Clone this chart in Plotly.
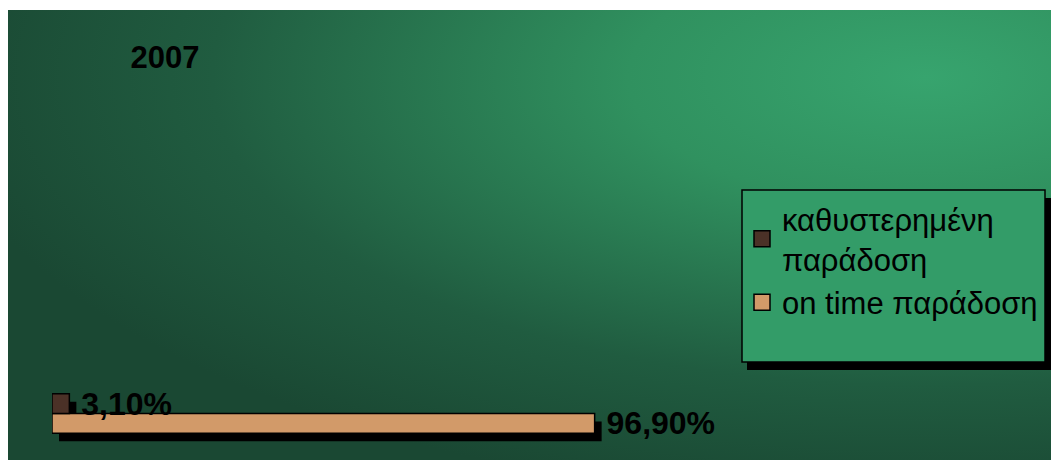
import base64
import plotly.graph_objects as go

# ---- data ----
categories = ["2007"]
late = [3.10]
on_time = [96.90]
series_names = ["καθυστερημένη<br>παράδοση", "on time παράδοση"]
series_colors = ["#4b3127", "#d29a69"]

W, H = 1051, 460
def px(p):
    return p / W
def py(p):
    return 1 - p / H

# ---- background gradient (svg data uri) ----
svg = f'''<svg xmlns="http://www.w3.org/2000/svg" width="1043" height="450" viewBox="0 0 1043 450" preserveAspectRatio="none">
<defs><radialGradient id="g" cx="0.88" cy="0.15" r="0.95">
<stop offset="0" stop-color="#37a46e"/>
<stop offset="0.3" stop-color="#30915f"/>
<stop offset="0.72" stop-color="#205c40"/>
<stop offset="1" stop-color="#1a4833"/>
</radialGradient></defs>
<rect width="1043" height="450" fill="url(#g)"/></svg>'''
src = "data:image/svg+xml;base64," + base64.b64encode(svg.encode()).decode()

# ---- axis geometry ----
x_left, px_per_unit, xmax = 52, 5.6, 100
x_dom = [px(x_left), px(x_left + px_per_unit * xmax)]
y_top, y_bot, y_center, band = 340, 453, 413.5, 79
y_dom = [py(y_bot), py(y_top)]
sx, sy = 7, 8  # shadow offset in px

real_x_range = [0, xmax]
shadow_x_range = [-sx / px_per_unit, xmax - sx / px_per_unit]
real_y_range = [-(y_bot - y_center) / band, (y_center - y_top) / band]
shadow_y_range = [-(y_bot - y_center - sy) / band, (y_center + sy - y_top) / band]

label_font = dict(family="Liberation Sans, Arial", size=32, color="black", weight="bold")

fig = go.Figure()

# shadows (drawn first)
for vals in [on_time, late]:
    fig.add_trace(go.Bar(y=categories, x=vals, orientation="h",
                         marker=dict(color="black", line=dict(width=0)),
                         showlegend=False, hoverinfo="skip",
                         xaxis="x", yaxis="y"))

# real bars
for vals, name, col in [(on_time, series_names[1], series_colors[1]),
                        (late, series_names[0], series_colors[0])]:
    fig.add_trace(go.Bar(y=categories, x=vals, orientation="h", name=name,
                         marker=dict(color=col, line=dict(color="black", width=1.5)),
                         texttemplate=" %{x:.2f}%", textposition="outside",
                         constraintext="none", cliponaxis=False,
                         textfont=label_font, showlegend=False,
                         xaxis="x2", yaxis="y2"))

# legend entries (larger square swatches)
for name, col in [(series_names[1], series_colors[1]), (series_names[0], series_colors[0])]:
    fig.add_trace(go.Scatter(x=[None], y=[None], mode="markers", name=name,
                             marker=dict(symbol="square", size=16, color=col,
                                         line=dict(color="black", width=1.5)),
                             xaxis="x2", yaxis="y2"))

# legend box + shadow
lx0, lx1, ly0, ly1 = 742, 1045, 190, 362
shapes = [
    dict(type="rect", xref="paper", yref="paper", x0=px(lx0 + 5), x1=px(lx1 + 8),
         y0=py(ly1 + 8), y1=py(ly0 + 8), fillcolor="black", line=dict(width=0), layer="above"),
    dict(type="rect", xref="paper", yref="paper", x0=px(lx0), x1=px(lx1),
         y0=py(ly1), y1=py(ly0), fillcolor="#339c68", line=dict(color="black", width=1.5), layer="above"),
]

fig.update_layout(
    width=W, height=H, margin=dict(l=0, r=0, t=0, b=0),
    paper_bgcolor="white", plot_bgcolor="rgba(0,0,0,0)",
    separators=",.",
    barmode="group", bargap=0.5, bargroupgap=0,
    images=[dict(source=src, xref="paper", yref="paper", x=px(8), y=py(10),
                 sizex=1 - px(8), sizey=py(10), sizing="stretch", layer="below",
                 xanchor="left", yanchor="top")],
    shapes=shapes,
    xaxis=dict(domain=x_dom, range=shadow_x_range, visible=False, fixedrange=True),
    yaxis=dict(domain=y_dom, range=shadow_y_range, visible=False, fixedrange=True),
    xaxis2=dict(overlaying="x", range=real_x_range, visible=False, anchor="y2"),
    yaxis2=dict(overlaying="y", range=real_y_range, visible=False, anchor="x2"),
    title=dict(text=categories[0], x=px(165), xanchor="center", y=py(57), yanchor="middle",
               xref="paper", yref="paper",
               font=dict(family="Liberation Sans, Arial", size=31, color="black", weight="bold")),
    legend=dict(x=px(742), y=py(192), xanchor="left", yanchor="top",
                bgcolor="rgba(0,0,0,0)", borderwidth=0, traceorder="reversed",
                font=dict(family="Liberation Sans, Arial", size=31, color="black"),
                itemwidth=30, tracegroupgap=4),
    showlegend=True,
)

fig.write_html("out.html")
